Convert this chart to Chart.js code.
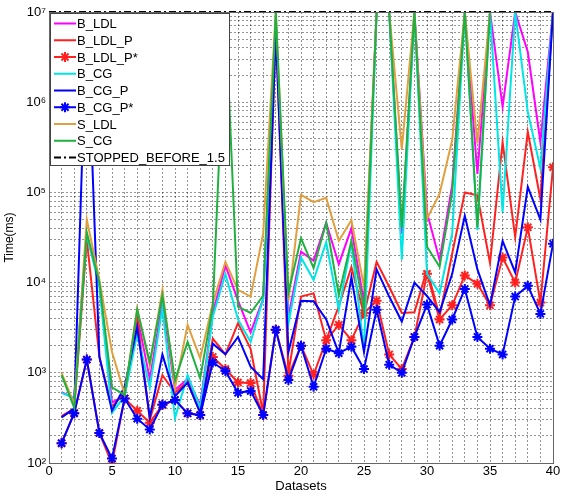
<!DOCTYPE html>
<html>
<head>
<meta charset="utf-8">
<script src="https://cdn.jsdelivr.net/npm/chart.js@4/dist/chart.umd.min.js"></script>
<style>
  html, body { margin: 0; padding: 0; background: #fff; }
  #wrap { width: 566px; height: 494px; }
</style>
</head>
<body>
<div id="wrap"><canvas id="grafico" width="566" height="494"></canvas></div>
<script>
// datasets 1..40
var ids = [1,2,3,4,5,6,7,8,9,10,11,12,13,14,15,16,17,18,19,20,21,22,23,24,25,26,27,28,29,30,31,32,33,34,35,36,37,38,39,40];

// time in ms (1e7 = stopped)
var bLDL = [610,525,34000,10000,470,550,4300,850,6000,650,850,440,4600,15500,6300,2800,6600,8e6,4200,22000,17500,46000,16000,40000,6000,1e7,1e7,35000,1e7,60000,17700,120000,1e7,160000,1e7,890000,1e7,3.6e6,360000,1e7];
var bLDLP = [330,400,30000,1500,420,600,4100,300,940,600,800,360,2400,1600,3550,1850,355,7e6,1000,7000,7600,2300,5500,14800,4500,17000,9000,4600,4700,14000,4200,21000,100000,93000,16500,360000,32000,470000,84000,1e7];
var bLDLPs = [166,357,1400,215,98,520,380,280,440,500,355,340,1500,1100,780,770,340,3000,930,2000,950,2300,3400,2300,4600,6300,1600,1100,2500,12500,3900,5600,12000,9700,5600,19000,10000,41000,6000,190000];
var bCG = [600,525,34000,9000,360,550,2700,690,5200,315,940,410,4200,12500,3900,2200,6600,8e6,3500,19000,10700,28000,5000,28000,1800,1e7,1e7,18000,1e7,12500,7600,35000,1e7,38000,1e7,60000,1e7,780000,185000,1e7];
var bCGP = [320,400,1e7,1500,380,700,3200,320,1600,550,780,360,2100,1600,2500,1170,850,6e6,1700,6300,6200,3900,1650,11500,1700,14000,7000,3700,10000,7100,4700,12500,55000,14000,5600,29000,13000,115000,50000,1e7];
var bCGPs = [166,357,1400,215,112,520,310,235,445,500,355,340,1300,1050,600,630,340,3000,830,2000,700,1850,1650,1950,1100,5000,1230,1000,2500,5700,2000,3900,8500,2500,1850,1600,7000,9200,4500,27000];
var sLDL = [1000,450,50000,10700,1700,580,5200,1200,8300,680,3400,1450,5900,17000,8300,7000,35000,1e7,6300,94000,78000,87000,29000,49000,9000,1e7,1e7,300000,1e7,51000,97000,380000,1e7,350000,1e7,1e7,1e7,1e7,1e7,1e7];
var sCG = [940,410,36000,10000,690,570,5000,1300,7200,830,2200,870,5500,1e7,5400,4600,7200,1e7,7700,31000,14500,46000,7300,29000,5000,1e7,1e7,41000,1e7,25000,15000,100000,1e7,41000,1e7,1e7,1e7,1e7,1e7,1e7];

var stopLevel = 1e7;
var stopRange = [0, 40];

var xTicks = [];
for (let i = 0; i <= 40; i++) xTicks.push(i);
var yTicks = [];
for (let e = 2; e <= 6; e++) {
  for (let m = 1; m <= 9; m++) yTicks.push(m * Math.pow(10, e));
}
yTicks.push(1e7);
var sup = {2: '\u00b2', 3: '\u00b3', 4: '\u2074', 5: '\u2075', 6: '\u2076', 7: '\u2077'};

function pts(arr) {
  return ids.map((x, i) => ({x: x, y: arr[i]}));
}

function serie(label, arr, color, order, star) {
  return {
    label: label,
    data: pts(arr),
    borderColor: color,
    backgroundColor: color,
    borderWidth: 2,
    tension: 0,
    order: order,
    pointRadius: star ? 5 : 0,
    pointStyle: star ? 'star' : 'circle',
    pointBorderWidth: 2,
    pointBorderColor: color
  };
}

// legend box drawn inside the plot, matlab style
const legendBox = {
  id: 'legendBox',
  afterDraw(chart) {
    const ctx = chart.ctx;
    const a = chart.chartArea;
    const x0 = a.left + 1, y0 = a.top + 1, w = 179, h = 152;
    ctx.save();
    ctx.fillStyle = '#fff';
    ctx.fillRect(x0, y0, w, h);
    ctx.strokeStyle = '#444';
    ctx.lineWidth = 1;
    ctx.strokeRect(x0 + 0.5, y0 + 0.5, w, h);
    ctx.font = '13px "Liberation Sans", Arial, sans-serif';
    ctx.textBaseline = 'middle';
    chart.data.datasets.forEach((ds, i) => {
      const y = y0 + 10.5 + i * 16.75;
      ctx.strokeStyle = ds.borderColor;
      ctx.lineWidth = ds.borderWidth;
      ctx.setLineDash(ds.borderDash || []);
      ctx.beginPath();
      ctx.moveTo(x0 + 4, y);
      ctx.lineTo(x0 + 26, y);
      ctx.stroke();
      ctx.setLineDash([]);
      if (ds.pointRadius > 0) {
        ctx.fillStyle = ds.borderColor;
        Chart.helpers.drawPoint(ctx, {pointStyle: ds.pointStyle, radius: ds.pointRadius, borderWidth: 2, rotation: 0}, x0 + 15, y);
      }
      ctx.fillStyle = '#000';
      ctx.fillText(ds.label, x0 + 27, y + 1);
    });
    // axes box
    ctx.strokeStyle = '#666';
    ctx.lineWidth = 1;
    ctx.strokeRect(a.left + 0.5, a.top + 0.5, a.right - a.left, a.bottom - a.top);
    ctx.restore();
  }
};

const grafico = document.getElementById('grafico');

new Chart(grafico, {
  type: 'line',
  data: {
    datasets: [
      serie('B_LDL', bLDL, '#ff00ff', 8, false),
      serie('B_LDL_P', bLDLP, '#ff2020', 7, false),
      serie('B_LDL_P*', bLDLPs, '#ff2020', 6, true),
      serie('B_CG', bCG, '#00e5e5', 5, false),
      serie('B_CG_P', bCGP, '#0000ff', 4, false),
      serie('B_CG_P*', bCGPs, '#0000ff', 3, true),
      serie('S_LDL', sLDL, '#e0a040', 2, false),
      serie('S_CG', sCG, '#20b040', 1, false),
      {
        label: 'STOPPED_BEFORE_1.5',
        data: stopRange.map(x => ({x: x, y: stopLevel})),
        borderColor: '#000',
        borderWidth: 2,
        borderDash: [7, 3, 2, 3],
        pointRadius: 0,
        order: 0,
        clip: false
      }
    ]
  },
  options: {
    responsive: false,
    animation: false,
    devicePixelRatio: 1,
    layout: { padding: { top: 12, right: 13, bottom: 0, left: 0 } },
    plugins: { legend: { display: false }, tooltip: { enabled: false } },
    scales: {
      x: {
        type: 'linear',
        min: 0,
        max: 40,
        afterBuildTicks: s => { s.ticks = xTicks.map(v => ({value: v})); },
        afterFit: s => { s.height = 31; },
        ticks: {
          autoSkip: false,
          maxRotation: 0,
          padding: 1,
          color: '#000',
          font: { family: '"Liberation Sans", Arial, sans-serif', size: 13 },
          callback: v => (v % 5 === 0 ? String(v) : '')
        },
        grid: { color: 'rgba(0,0,0,0.42)', drawTicks: false },
        border: { dash: [2, 2], color: '#666' },
        title: {
          display: true,
          text: 'Datasets',
          color: '#000',
          padding: 0,
          font: { family: '"Liberation Sans", Arial, sans-serif', size: 13 }
        }
      },
      y: {
        type: 'logarithmic',
        min: 100,
        max: 1e7,
        afterBuildTicks: s => { s.ticks = yTicks.map(v => ({value: v})); },
        afterFit: s => { s.width = 49; },
        ticks: {
          autoSkip: false,
          padding: 3,
          color: '#000',
          font: { family: '"Liberation Sans", Arial, sans-serif', size: 13 },
          callback: v => {
            const e = Math.round(Math.log10(v));
            return Math.abs(Math.log10(v) - e) < 1e-9 ? '10' + sup[e] : '';
          }
        },
        grid: { color: 'rgba(0,0,0,0.42)', drawTicks: false },
        border: { dash: [2, 2], color: '#666' },
        title: {
          display: true,
          text: 'Time(ms)',
          color: '#000',
          padding: 2,
          font: { family: '"Liberation Sans", Arial, sans-serif', size: 12 }
        }
      }
    }
  },
  plugins: [legendBox]
});
</script>
</body>
</html>
